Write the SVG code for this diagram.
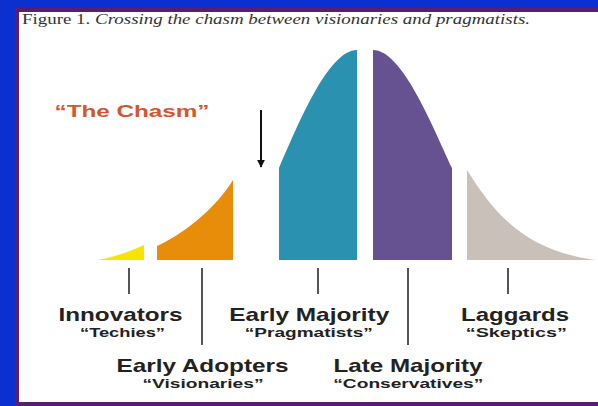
<svg xmlns="http://www.w3.org/2000/svg" width="598" height="406" viewBox="0 0 598 406">
  <style>
    .lbl { font-family: "Liberation Sans", Arial, sans-serif; font-weight: bold; fill: #222; text-anchor: middle; }
    .name { font-size: 19px; }
    .nick { font-size: 13px; }
    .tick { stroke: #555; stroke-width: 2; fill: none; }
    .title { font-family: "Liberation Serif", "Times New Roman", serif; font-size: 14px; fill: #333; }
  </style>
  <defs>
    <marker id="arrowHead" viewBox="0 0 10 10" refX="9" refY="5" markerWidth="8" markerHeight="8" markerUnits="userSpaceOnUse" orient="auto">
      <path d="M0,0 L10,5 L0,10 Z" fill="#111"/>
    </marker>
  </defs>

  <!-- page background and framed panel -->
  <rect x="0" y="0" width="598" height="406" fill="#0b30cf"/>
  <rect x="17" y="10" width="600" height="394" fill="#ffffff" stroke="#5a1f6c" stroke-width="4"/>

  <!-- caption -->
  <text class="title" x="22" y="24" textLength="508" lengthAdjust="spacingAndGlyphs">Figure 1. <tspan font-style="italic">Crossing the chasm between visionaries and pragmatists.</tspan></text>

  <!-- chasm label and pointer -->
  <g id="chasm">
    <text x="132" y="117" text-anchor="middle" font-family="Liberation Sans, Arial, sans-serif" font-weight="bold" font-size="16" fill="#d4562c" textLength="155" lengthAdjust="spacingAndGlyphs">“The Chasm”</text>
  </g>
  <g id="connectors">
    <line x1="261" y1="110" x2="261" y2="167" stroke="#111" stroke-width="2" marker-end="url(#arrowHead)"/>
    <line class="tick" x1="129" y1="268" x2="129" y2="294"/>
    <line class="tick" x1="202" y1="268" x2="202" y2="345"/>
    <line class="tick" x1="318" y1="268" x2="318" y2="294"/>
    <line class="tick" x1="408" y1="268" x2="408" y2="345"/>
    <line class="tick" x1="508" y1="268" x2="508" y2="294"/>
  </g>

  <!-- adoption curve segments -->
  <g id="innovators">
    <path d="M97,260 C110,258 130,252 144,245 L144,260 Z" fill="#f6e400"/>
    <text class="lbl name" x="120.5" y="321" textLength="124" lengthAdjust="spacingAndGlyphs">Innovators</text>
    <text class="lbl nick" x="122.5" y="337" textLength="85" lengthAdjust="spacingAndGlyphs">“Techies”</text>
  </g>
  <g id="early-adopters">
    <path d="M157,260 L157,246 C180,236 215,210 233,180 L233,260 Z" fill="#e88d0a"/>
    <text class="lbl name" x="202.5" y="372" textLength="172" lengthAdjust="spacingAndGlyphs">Early Adopters</text>
    <text class="lbl nick" x="203" y="388" textLength="121" lengthAdjust="spacingAndGlyphs">“Visionaries”</text>
  </g>
  <g id="early-majority">
    <path d="M279,260 L279,168 C298,125 328,50 357,50 L357,260 Z" fill="#2a92b0"/>
    <text class="lbl name" x="309.3" y="321" textLength="160" lengthAdjust="spacingAndGlyphs">Early Majority</text>
    <text class="lbl nick" x="308.8" y="337" textLength="128" lengthAdjust="spacingAndGlyphs">“Pragmatists”</text>
  </g>
  <g id="late-majority">
    <path d="M373,260 L373,50 C402,50 432,125 452,168 L452,260 Z" fill="#665290"/>
    <text class="lbl name" x="408" y="372" textLength="149" lengthAdjust="spacingAndGlyphs">Late Majority</text>
    <text class="lbl nick" x="408.3" y="388" textLength="150" lengthAdjust="spacingAndGlyphs">“Conservatives”</text>
  </g>
  <g id="laggards">
    <path d="M467,260 L467,170 C495,215 525,250 595,260 Z" fill="#c9c0b9"/>
    <text class="lbl name" x="515" y="321" textLength="108" lengthAdjust="spacingAndGlyphs">Laggards</text>
    <text class="lbl nick" x="516.3" y="337" textLength="101" lengthAdjust="spacingAndGlyphs">“Skeptics”</text>
  </g>
</svg>
